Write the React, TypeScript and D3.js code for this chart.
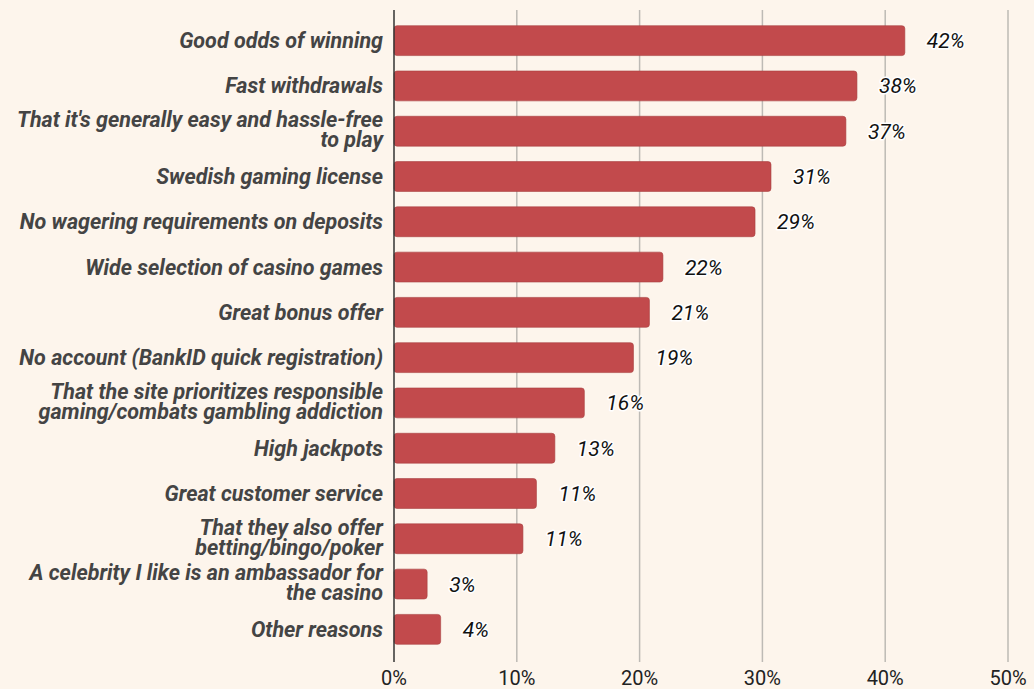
import { useEffect, useRef } from "react";
import * as d3 from "d3";

const categories = [
  "Good odds of winning",
  "Fast withdrawals",
  "That it's generally easy and hassle-free\nto play",
  "Swedish gaming license",
  "No wagering requirements on deposits",
  "Wide selection of casino games",
  "Great bonus offer",
  "No account (BankID quick registration)",
  "That the site prioritizes responsible\ngaming/combats gambling addiction",
  "High jackpots",
  "Great customer service",
  "That they also offer\nbetting/bingo/poker",
  "A celebrity I like is an ambassador for\nthe casino",
  "Other reasons",
];

const values = [41.6, 37.7, 36.8, 30.7, 29.4, 21.9, 20.8, 19.5, 15.5, 13.1, 11.6, 10.5, 2.7, 3.8];
const valueLabels = ["42%", "38%", "37%", "31%", "29%", "22%", "21%", "19%", "16%", "13%", "11%", "11%", "3%", "4%"];
const ticks = [0, 10, 20, 30, 40, 50];

const W = 1034;
const H = 689;
const BAR = "#c24a4c";

export default function App() {
  const ref = useRef<SVGSVGElement>(null);

  useEffect(() => {
    document.body.style.margin = "0";
    const svg = d3.select(ref.current!);
    svg.selectAll("*").remove();

    const x = d3.scaleLinear().domain([0, 50]).range([394, 1008]);
    const y = d3
      .scaleBand<number>()
      .domain(d3.range(categories.length))
      .range([18, 652])
      .paddingInner(0.34)
      .paddingOuter(0.17);

    svg.append("rect").attr("width", W).attr("height", H).attr("fill", "#fdf5ec");

    // grid
    svg
      .append("g")
      .selectAll("line")
      .data(ticks.slice(1))
      .join("line")
      .attr("x1", (d) => x(d))
      .attr("x2", (d) => x(d))
      .attr("y1", 10)
      .attr("y2", 662)
      .attr("stroke", "#bdbab5")
      .attr("stroke-width", 1.5);

    // bars
    svg
      .append("g")
      .selectAll("rect")
      .data(values)
      .join("rect")
      .attr("x", x(0))
      .attr("y", (_, i) => y(i)!)
      .attr("width", (d) => x(d) - x(0))
      .attr("height", y.bandwidth())
      .attr("rx", 3)
      .attr("fill", BAR)
      .attr("stroke", "#a8403f")
      .attr("stroke-width", 0.6);

    // axis line
    svg
      .append("line")
      .attr("x1", x(0))
      .attr("x2", x(0))
      .attr("y1", 10)
      .attr("y2", 662)
      .attr("stroke", "#333")
      .attr("stroke-width", 1.5);

    // category labels
    const labels = svg
      .append("g")
      .attr("font-family", "Roboto, sans-serif")
      .attr("font-weight", 700)
      .attr("font-style", "italic")
      .attr("font-size", 21.5)
      .attr("fill", "#444")
      .attr("text-anchor", "end");
    categories.forEach((c, i) => {
      const lines = c.split("\n");
      const cy = y(i)! + y.bandwidth() / 2;
      const off = lines.length > 1 ? 6 : 7.5;
      const t = labels.append("text").attr("x", 383);
      lines.forEach((ln, k) => {
        t.append("tspan")
          .attr("x", 383)
          .attr("y", cy + off + (k - (lines.length - 1) / 2) * 20)
          .text(ln);
      });
    });

    // value labels
    svg
      .append("g")
      .selectAll("text")
      .data(values)
      .join("text")
      .attr("x", (d) => x(d) + 22)
      .attr("y", (_, i) => y(i)! + y.bandwidth() / 2 + 7.5)
      .attr("font-family", "Roboto, sans-serif")
      .attr("font-style", "italic")
      .attr("font-size", 21)
      .attr("fill", "#111")
      .attr("stroke", "#fff")
      .attr("stroke-width", 3)
      .attr("paint-order", "stroke")
      .attr("stroke-linejoin", "round")
      .text((_, i) => valueLabels[i]);

    // tick labels
    svg
      .append("g")
      .selectAll("text")
      .data(ticks)
      .join("text")
      .attr("x", (d) => x(d))
      .attr("y", 685)
      .attr("text-anchor", "middle")
      .attr("font-family", "Roboto, sans-serif")
      .attr("font-size", 20)
      .attr("fill", "#222")
      .text((d) => `${d}%`);
  }, []);

  return <svg ref={ref} width={W} height={H} style={{ display: "block" }} />;
}
